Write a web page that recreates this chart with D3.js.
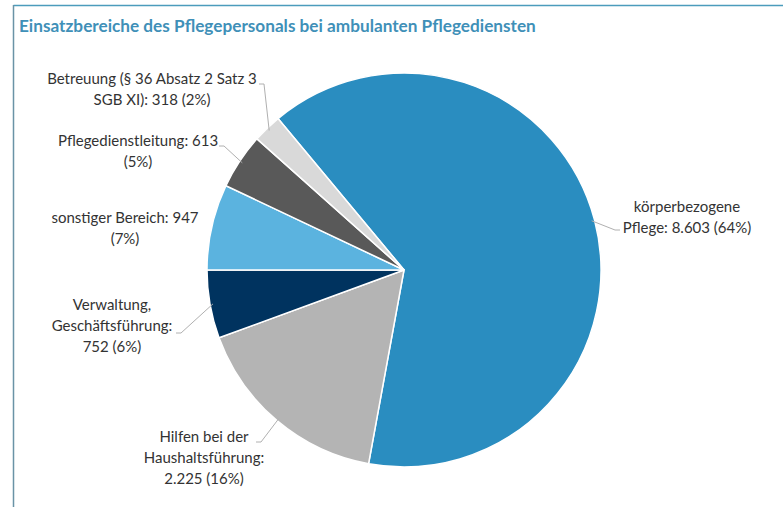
<!DOCTYPE html>
<html><head><meta charset="utf-8">
<script src="https://cdn.jsdelivr.net/npm/d3@7/dist/d3.min.js"></script>
<style>body{margin:0;background:#fff}svg{display:block}</style>
</head><body>
<script>
// ---- data ----
const categories = ["körperbezogene Pflege", "Hilfen bei der Haushaltsführung", "Verwaltung, Geschäftsführung", "sonstiger Bereich", "Pflegedienstleitung", "Betreuung (§ 36 Absatz 2 Satz 3 SGB XI)"];
const values = [8603, 2225, 752, 947, 613, 318];
const percents = [64, 16, 6, 7, 5, 2];
const title = "Einsatzbereiche des Pflegepersonals bei ambulanten Pflegediensten";

// ---- layout / style ----
const colors = ["#2a8dc0", "#b4b4b4", "#00335f", "#5bb3df", "#595959", "#d9d9d9"];
const wordsPerLine = [[1,3],[3,1,2],[1,1,2],[3,1],[2,1],[7,4]];
const labelLayout = [
  {x:687, y:212, lx:620, ly:230, dir:-1},
  {x:204, y:442, lx:256, ly:442, dir:1},
  {x:112, y:310, lx:176, ly:333, dir:1},
  {x:125, y:223, lx:null},
  {x:138, y:146, lx:219, ly:146, dir:1},
  {x:152, y:84, lx:259, ly:84, dir:1}
];

const W = 783, H = 507;
const cx = 404, cy = 270, R = 197;
const svg = d3.select("body").append("svg").attr("width", W).attr("height", H);

// frame
svg.append("line").attr("x1",13.5).attr("x2",W).attr("y1",5.5).attr("y2",5.5).attr("stroke","#4b9cbc").attr("stroke-width",1.5);
svg.append("line").attr("x1",13.5).attr("x2",13.5).attr("y1",5).attr("y2",H).attr("stroke","#6a93a6").attr("stroke-width",1.5);

svg.append("text").attr("x",19).attr("y",32).text(title)
  .attr("font-family","Lato").attr("font-weight","bold").attr("font-size",17.2).attr("fill","#3f90b8");

const fmt = d3.formatLocale({decimal:",", thousands:".", grouping:[3], currency:["","€"]}).format(",d");

const total = d3.sum(values);
const startDeg = 270 - (values[0]+values[1]+values[2]) / total * 360;
const pie = d3.pie().sort(null).value(d=>d)
  .startAngle(startDeg*Math.PI/180).endAngle((startDeg+360)*Math.PI/180);
const arcs = pie(values);
const arc = d3.arc().innerRadius(0).outerRadius(R);
const g = svg.append("g").attr("transform",`translate(${cx},${cy})`);
g.selectAll("path").data(arcs).join("path")
  .attr("d", arc).attr("fill",(d,i)=>colors[i]).attr("stroke","#fff").attr("stroke-width",1.5);

// labels
const edge = d3.arc().innerRadius(R-3).outerRadius(R-3);
arcs.forEach((a,i)=>{
  const L = labelLayout[i];
  const full = `${categories[i]}: ${fmt(values[i])} (${percents[i]}%)`;
  const words = full.split(" ");
  let k = 0; const lines = [];
  wordsPerLine[i].forEach(n=>{ lines.push(words.slice(k,k+n).join(" ")); k+=n; });
  const t = svg.append("text").attr("text-anchor","middle")
    .attr("font-family","Lato").attr("font-size",15).attr("fill","#333");
  lines.forEach((ln,j)=>t.append("tspan").attr("x",L.x).attr("y",L.y+j*21).text(ln));
  if (L.lx !== null) {
    const c = edge.centroid(a);
    const px = cx + c[0], py = cy + c[1];
    svg.append("polyline")
      .attr("points", `${L.lx},${L.ly} ${L.lx+5*L.dir},${L.ly} ${px},${py}`)
      .attr("fill","none").attr("stroke","#b0b0b0").attr("stroke-width",1);
  }
});
</script>
</body></html>
